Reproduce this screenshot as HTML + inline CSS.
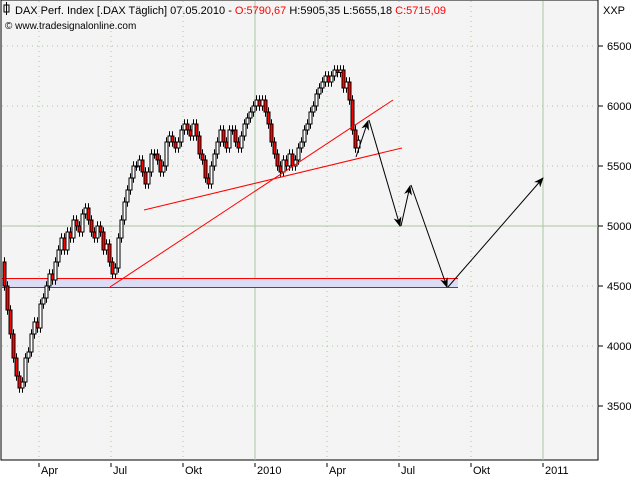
<!DOCTYPE html>
<html><head><meta charset="utf-8"><style>
body{margin:0;background:#fff;}
svg{display:block;font-family:"Liberation Sans",sans-serif;}
</style></head><body>
<svg id="chart" width="640" height="480">
<rect x="1" y="0" width="597" height="460" fill="#f4f4f4" stroke="#000"/>
<g id="grid"></g>
<rect x="2" y="278" width="456" height="9" fill="#dcdcf4"/>
<line x1="2" y1="278.5" x2="458" y2="278.5" stroke="#f00" stroke-width="1" shape-rendering="crispEdges"/>
<line x1="2" y1="287.5" x2="458" y2="287.5" stroke="#f00" stroke-width="1" shape-rendering="crispEdges"/>
<g id="candles"></g>
<line x1="110" y1="287" x2="393" y2="100" stroke="#f00"/>
<line x1="144" y1="210" x2="402" y2="148" stroke="#f00"/>
<defs><marker id="ah" markerWidth="10" markerHeight="8" refX="9" refY="4" orient="auto"><path d="M0,0 L10,4 L0,8 L3,4z" fill="#000"/></marker></defs>
<g fill="none" stroke="#000" stroke-width="1">
<line x1="356" y1="157" x2="368" y2="121" marker-end="url(#ah)"/>
<line x1="369" y1="120" x2="400" y2="226" marker-end="url(#ah)"/>
<line x1="401" y1="226" x2="410" y2="186" marker-end="url(#ah)"/>
<line x1="411" y1="185" x2="447" y2="287" marker-end="url(#ah)"/>
<line x1="448" y1="287" x2="543" y2="178" marker-end="url(#ah)"/>
</g>
<g id="axes" font-size="11" fill="#000"></g>
<text x="603" y="14" font-size="11">XXP</text>
<g font-size="11">
<rect x="4" y="5" width="5" height="7" fill="none" stroke="#000"/><line x1="6.5" y1="2" x2="6.5" y2="15" stroke="#000"/>
<text x="15" y="14">DAX Perf. Index [.DAX  Täglich] 07.05.2010 - <tspan fill="#f00">O:5790,67</tspan> H:5905,35 L:5655,18 <tspan fill="#f00">C:5715,09</tspan></text>
<text x="5" y="29" font-size="10">© www.tradesignalonline.com</text>
</g>
</svg>
<script>
const closes=[4500,4300,4100,3900,3750,3650,3700,3900,3950,4100,4200,4150,4350,4400,4500,4600,4550,4700,4800,4900,4800,4950,4900,5050,5000,4950,5100,5150,5050,4950,4900,5000,4950,4800,4850,4700,4600,4650,4900,5050,5200,5300,5400,5500,5500,5550,5450,5350,5450,5600,5600,5550,5450,5500,5700,5750,5700,5650,5700,5800,5850,5800,5750,5850,5750,5600,5550,5400,5350,5500,5600,5700,5800,5700,5650,5800,5800,5700,5650,5750,5850,5900,5950,6000,6050,6000,6050,5950,5850,5700,5600,5500,5450,5550,5500,5600,5500,5550,5650,5700,5800,5850,5950,6000,6100,6150,6200,6250,6200,6250,6300,6280,6300,6150,6200,6050,5800,5650,5715];
const firstOpen=4700;
const yTicks=[3500,4000,4500,5000,5500,6000,6500];
const xLabels=["Apr","Jul","Okt","2010","Apr","Jul","Okt","2011"];
const xMonthIdx=[3,6,9,12,15,18,21,24]; // months since Jan 2009
const NS="http://www.w3.org/2000/svg";
const y=v=>46+(6500-v)*0.12;
const xm=m=>255+(m-12)*24;
const xi=i=>3+i*3;
function el(t,a,p){const e=document.createElementNS(NS,t);for(const k in a)e.setAttribute(k,a[k]);p.appendChild(e);return e;}
const grid=document.getElementById('grid'),axes=document.getElementById('axes'),cg=document.getElementById('candles');
yTicks.forEach(v=>{
  const solid=v===5000;
  const l=el('line',{x1:2,x2:598,y1:y(v),y2:y(v),stroke:'#a8c8a0','stroke-dasharray':solid?'':'1,4'},grid);
  
  
  el('line',{x1:598,x2:603,y1:y(v),y2:y(v),stroke:'#000'},axes);
  const t=el('text',{x:607,y:y(v)+4},axes);t.textContent=v;
  
  
});
xLabels.forEach((s,i)=>{
  const x=xm(xMonthIdx[i]);
  const solid=s.length===4;
  const l=el('line',{x1:x,x2:x,y1:1,y2:460,stroke:'#a8c8a0','stroke-dasharray':solid?'':'1,4'},grid);
  
  
  el('line',{x1:x,x2:x,y1:463,y2:467,stroke:'#000'},axes);
  const t=el('text',{x:x+2,y:474},axes);t.textContent=s;
  
  
});
closes.forEach((c,i)=>{
  const o=i?closes[i-1]:firstOpen;
  const x=xi(i);
  const hi=Math.max(o,c)+40,lo=Math.min(o,c)-40;
  const g=el('g',{},cg);
  
  
  el('line',{x1:x+1.5,x2:x+1.5,y1:y(hi),y2:y(lo),stroke:'#000'},g);
  const top=y(Math.max(o,c)),h=Math.max(1,Math.abs(y(o)-y(c)));
  el('rect',{x:x,y:top,width:3,height:h,fill:c<o?'#f00':'#fff',stroke:'#000','stroke-width':1},g);
});
</script>
</body></html>
